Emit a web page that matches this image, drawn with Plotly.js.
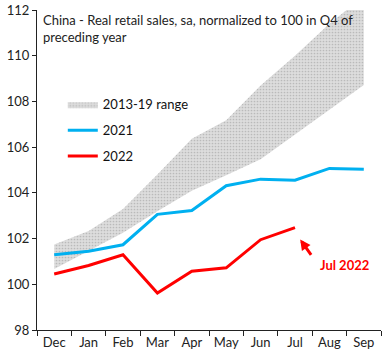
<!DOCTYPE html>
<html>
<head>
<meta charset="utf-8">
<script src="https://cdn.plot.ly/plotly-3.0.1.min.js"></script>
<style>html,body{margin:0;padding:0;background:#fff;}#chart{width:384px;height:360px;}</style>
</head>
<body>
<div id="chart"></div>
<script>
const months = ['Dec','Jan','Feb','Mar','Apr','May','Jun','Jul','Aug','Sep'];
const rangeLow  = [100.67, 101.48, 102.26, 103.2, 104.09, 104.77, 105.47, 106.55, 107.63, 108.72];
const rangeHigh = [101.74, 102.33, 103.29, 104.8, 106.37, 107.18, 108.7, 110.0, 111.4, 112.6];
const s2021 = [101.29, 101.45, 101.73, 103.06, 103.23, 104.31, 104.6, 104.55, 105.07, 105.03];
const s2022 = [100.45, 100.82, 101.29, 99.62, 100.57, 100.72, 101.95, 102.48];
const yTicks = [98, 100, 102, 104, 106, 108, 110, 112];

const FONT = 'Lato, "Open Sans", sans-serif';

const traces = [
  {x: months, y: rangeLow, type: 'scatter', mode: 'lines', line: {width: 0, color: 'rgba(0,0,0,0)'},
   showlegend: false, hoverinfo: 'skip', legendgroup: 'a'},
  {x: months, y: rangeHigh, type: 'scatter', mode: 'lines', name: '2013-19 range',
   line: {width: 0, color: 'rgba(0,0,0,0)'}, fill: 'tonexty', fillcolor: '#dcdcdc',
   fillpattern: {shape: '.', bgcolor: '#dddddd', fgcolor: '#bababa', size: 3, solidity: 0.25},
   legendgroup: 'a'},
  {x: months, y: s2021, type: 'scatter', mode: 'lines', name: '2021',
   line: {color: '#00B0F0', width: 3}, legendgroup: 'b'},
  {x: months.slice(0, s2022.length), y: s2022, type: 'scatter', mode: 'lines', name: '2022',
   line: {color: '#FF0000', width: 3}, legendgroup: 'c'}
];

const layout = {
  width: 384, height: 360,
  margin: {l: 37, r: 3, t: 10, b: 30, pad: 0},
  paper_bgcolor: '#fff', plot_bgcolor: '#fff',
  font: {family: FONT, size: 13, color: '#222'},
  showlegend: true,
  legend: {x: 0.075, y: 0.752, xanchor: 'left', yanchor: 'top', bgcolor: 'rgba(0,0,0,0)',
           font: {family: FONT, size: 13, color: '#111'}, traceorder: 'grouped', tracegroupgap: 6,
           itemwidth: 30},
  xaxis: {type: 'category', range: [-0.5, 9.5], showline: true, linecolor: '#222', linewidth: 1,
          ticks: 'outside', tickson: 'boundaries', ticklen: 5, tickcolor: '#222',
          showgrid: false, zeroline: false, fixedrange: true,
          tickfont: {family: FONT, size: 13, color: '#222'}},
  yaxis: {range: [98, 112], tickvals: yTicks, ticktext: yTicks.map(String),
          showline: true, linecolor: '#222', linewidth: 1, ticks: 'outside', ticklen: 4,
          tickcolor: '#222', showgrid: false, zeroline: false, fixedrange: true,
          tickfont: {family: FONT, size: 13, color: '#222'}},
  annotations: [
    {xref: 'paper', yref: 'paper', x: 0.012, y: 1.0, xanchor: 'left', yanchor: 'top', align: 'left',
     showarrow: false, text: 'China - Real retail sales, sa, normalized to 100 in Q4 of<br>preceding year',
     font: {family: FONT, size: 13, color: '#222'}},
    {x: 7.15, y: 101.96, xref: 'x', yref: 'y', text: '', showarrow: true, arrowhead: 2,
     arrowsize: 0.7, arrowwidth: 3, arrowcolor: '#FF0000', ax: 12, ay: 17, standoff: 0},
    {x: 8.45, y: 100.86, xref: 'x', yref: 'y', text: '<b>Jul 2022</b>', showarrow: false,
     font: {family: FONT, size: 13, color: '#FF0000'}}
  ]
};

Plotly.newPlot('chart', traces, layout, {displayModeBar: false, staticPlot: true});
</script>
</body>
</html>
